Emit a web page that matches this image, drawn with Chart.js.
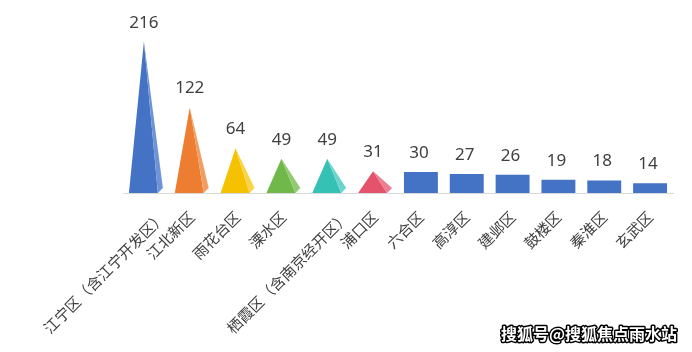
<!DOCTYPE html>
<html>
<head>
<meta charset="utf-8">
<script src="https://cdn.jsdelivr.net/npm/chart.js@4"></script>
<style>
  html, body { margin: 0; padding: 0; background: #fff; }
  #wrap { width: 692px; height: 352px; }
</style>
</head>
<body>
<div id="wrap"><canvas id="districtChart"></canvas></div>
<script>
const districts = ['江宁区（含江宁开发区）', '江北新区', '雨花台区', '溧水区', '栖霞区（含南京经开区）', '浦口区',
    '六合区', '高淳区', '建邺区', '鼓楼区', '秦淮区', '玄武区'];
const counts = [216, 122, 64, 49, 49, 31, 30, 27, 26, 19, 18, 14];
const pyramidCount = 6;

const pyramidColors = ['#4472C4', '#ED7D31', '#F6C100', '#70B84A', '#35C2B5', '#E5526C'];
const pyramidSides = ['#6E93D6', '#F29E63', '#F9D447', '#93CB72', '#6CD5CB', '#EC7F92'];
const barColor = '#4472C4';

// pyramids for the first few districts, drawn on the bar geometry
const pyramidPlugin = {
    id: 'pyramids',
    afterDatasetsDraw(chart) {
        const c = chart.ctx;
        const meta = chart.getDatasetMeta(0);
        meta.data.forEach((el, i) => {
            if (i >= pyramidCount) return;
            const w = el.width;
            const left = el.x - w / 2;
            const right = el.x + w / 2;
            const frontRight = right - 5;
            const apexX = el.x - 2;
            const top = el.y;
            const base = el.base;
            c.save();
            c.fillStyle = pyramidColors[i];
            c.beginPath();
            c.moveTo(apexX, top);
            c.lineTo(left, base);
            c.lineTo(frontRight, base);
            c.closePath();
            c.fill();
            c.fillStyle = pyramidSides[i];
            c.beginPath();
            c.moveTo(apexX, top);
            c.lineTo(right, base - 5);
            c.lineTo(frontRight, base);
            c.closePath();
            c.fill();
            c.restore();
        });
    }
};

const valueLabels = {
    id: 'valueLabels',
    afterDatasetsDraw(chart) {
        const c = chart.ctx;
        const meta = chart.getDatasetMeta(0);
        c.save();
        c.font = '17px "Noto Sans", "Noto Sans CJK SC", sans-serif';
        c.fillStyle = '#404040';
        c.textAlign = 'center';
        c.textBaseline = 'alphabetic';
        meta.data.forEach((el, i) => {
            c.fillText(String(counts[i]), el.x - 2, el.y - 14);
        });
        c.restore();
    }
};

// slanted category labels; the long ones sit a bit further right, like in Excel
const categoryLabels = {
    id: 'categoryLabels',
    afterDraw(chart) {
        const c = chart.ctx;
        const xs = chart.scales.x;
        c.save();
        c.font = '15px "Noto Sans CJK SC", sans-serif';
        c.fillStyle = '#404040';
        c.textAlign = 'right';
        c.textBaseline = 'middle';
        districts.forEach((name, i) => {
            const shift = name.length > 6 ? 17 : 0;
            c.save();
            c.translate(xs.getPixelForTick(i) + shift, xs.top + 21);
            c.rotate(-Math.PI / 4);
            c.fillText(name, 0, 0);
            c.restore();
        });
        c.restore();
    }
};

const watermark = {
    id: 'watermark',
    afterDraw(chart) {
        const c = chart.ctx;
        c.save();
        c.font = 'bold 16px "Noto Sans CJK SC", sans-serif';
        c.textAlign = 'right';
        c.textBaseline = 'middle';
        c.lineJoin = 'round';
        c.lineWidth = 3;
        c.strokeStyle = '#000';
        c.strokeText('搜狐号@搜狐焦点雨水站', 677, 334);
        c.fillStyle = '#fff';
        c.fillText('搜狐号@搜狐焦点雨水站', 677, 334);
        c.restore();
    }
};

const ctx = document.getElementById('districtChart');

new Chart(ctx, {
    type: 'bar',
    data: {
        labels: districts,
        datasets: [{
            data: counts,
            backgroundColor: counts.map((v, i) => i < pyramidCount ? 'rgba(0,0,0,0)' : barColor),
            barPercentage: 0.74,
            categoryPercentage: 1
        }]
    },
    options: {
        responsive: true,
        maintainAspectRatio: false,
        animation: false,
        layout: {
            padding: { top: 10, right: 19, left: 123, bottom: 0 }
        },
        plugins: {
            legend: { display: false },
            tooltip: { enabled: false }
        },
        scales: {
            x: {
                grid: { display: false },
                border: { color: '#D9D9D9', width: 1 },
                ticks: { display: false },
                afterFit(scale) {
                    scale.height = 159;
                    scale.paddingLeft = 0;
                    scale.paddingRight = 0;
                }
            },
            y: {
                display: false,
                min: 0,
                max: 261
            }
        }
    },
    plugins: [pyramidPlugin, valueLabels, categoryLabels, watermark]
});
</script>
</body>
</html>
